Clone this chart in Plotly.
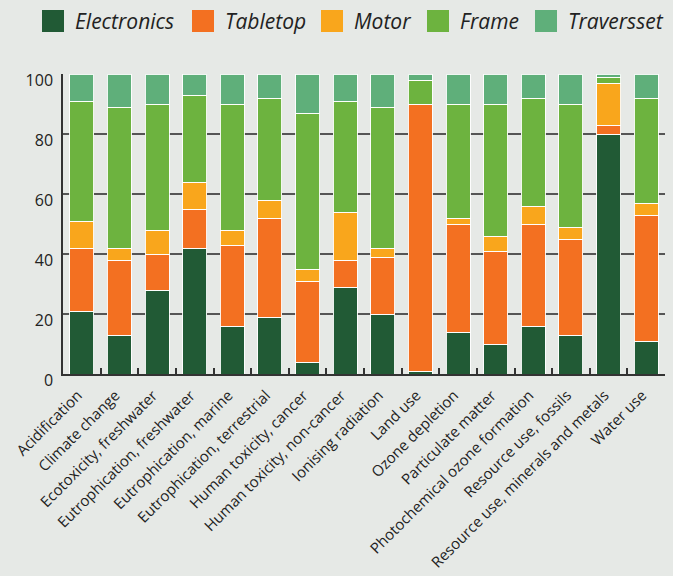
import plotly.graph_objects as go

categories = ['Acidification', 'Climate change', 'Ecotoxicity, freshwater',
              'Eutrophication, freshwater', 'Eutrophication, marine',
              'Eutrophication, terrestrial', 'Human toxicity, cancer',
              'Human toxicity, non-cancer', 'Ionising radiation', 'Land use',
              'Ozone depletion', 'Particulate matter', 'Photochemical ozone formation',
              'Resource use, fossils', 'Resource use, minerals and metals', 'Water use']

electronics = [21, 13, 28, 42, 16, 19, 4, 29, 20, 1, 14, 10, 16, 13, 80, 11]
tabletop = [21, 25, 12, 13, 27, 33, 27, 9, 19, 89, 36, 31, 34, 32, 3, 42]
motor = [9, 4, 8, 9, 5, 6, 4, 16, 3, 0, 2, 5, 6, 4, 14, 4]
frame = [40, 47, 42, 29, 42, 34, 52, 37, 47, 8, 38, 44, 36, 41, 2, 35]
traversset = [9, 11, 10, 7, 10, 8, 13, 9, 11, 2, 10, 10, 8, 10, 1, 8]

series = [('Electronics', electronics, '#215a35'),
          ('Tabletop', tabletop, '#f37021'),
          ('Motor', motor, '#f9a61c'),
          ('Frame', frame, '#6db33f'),
          ('Traversset', traversset, '#5faf7a')]

fig = go.Figure()
for name, vals, color in series:
    fig.add_trace(go.Bar(x=categories, y=vals, name=name,
                         marker={'color': color, 'line': {'color': 'rgba(255,255,255,0.9)', 'width': 1}},
                         showlegend=False))

# plot area in pixels: x 63..665, y 74..374
W, H = 673, 576
L, R, T, B = 63, 8, 74, 202
pw, ph = W - L - R, H - T - B

def px(x):
    return (x - L) / pw

def py(y):
    return (H - B - y) / ph

# hand-drawn legend with large square swatches
legend_swatch_x = [42, 192, 321, 427, 535]
shapes = []
annotations = []
for (name, vals, color), sx in zip(series, legend_swatch_x):
    shapes.append(dict(type='rect', xref='paper', yref='paper',
                       x0=px(sx), x1=px(sx + 22), y0=py(32), y1=py(10),
                       fillcolor=color, line={'width': 0}))
    annotations.append(dict(xref='paper', yref='paper', x=px(sx + 31), y=py(21),
                            xanchor='left', yanchor='middle', showarrow=False,
                            text=f'<i>{name}</i>',
                            font={'family': 'Open Sans', 'size': 21, 'color': '#222'}))

fig.update_layout(barmode='stack', bargap=0.36,
                  width=W, height=H,
                  margin={'l': L, 'r': R, 't': T, 'b': B, 'autoexpand': False},
                  paper_bgcolor='#e6e9e6', plot_bgcolor='#e6e9e6',
                  font={'family': 'Open Sans', 'size': 15, 'color': '#222'},
                  shapes=shapes, annotations=annotations)
fig.update_xaxes(tickangle=-45, tickson='boundaries', ticks='inside', ticklen=6,
                 tickwidth=1.5, tickcolor='#333', showline=True, linecolor='#333',
                 linewidth=1.5, showgrid=False, automargin=False,
                 ticklabelstandoff=5, ticklabelshift=-4)
fig.update_yaxes(range=[0, 100], dtick=20, showgrid=True, gridcolor='#555',
                 gridwidth=1.5, zeroline=False, showline=True, linecolor='#333',
                 linewidth=1.5, ticks='', ticklabelstandoff=5, ticklabelshift=6,
                 tickfont_size=16, automargin=False)

fig.write_html("out.html", config={'displayModeBar': False},
               post_script="document.body.style.margin='0';document.body.style.overflow='hidden';")
